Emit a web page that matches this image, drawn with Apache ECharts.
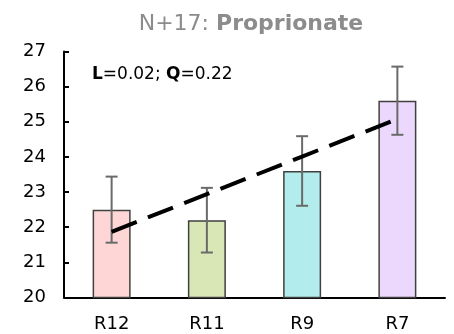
<!DOCTYPE html>
<html>
<head>
<meta charset="utf-8">
<script src="https://cdn.jsdelivr.net/npm/echarts@6/dist/echarts.min.js"></script>
<style>
html,body{margin:0;padding:0;background:#fff;}
#c{width:454px;height:334px;}
</style>
</head>
<body>
<div id="c"></div>
<script>
const categories = ['R12', 'R11', 'R9', 'R7'];
const means = [22.5, 22.2, 23.6, 25.6];
const errors = [0.94, 0.92, 0.99, 0.97];
const trend = [21.87, 22.94, 24.01, 25.08];
const barColors = ['#ffd6d6', '#d9e7b6', '#b3ecec', '#ebd8fc'];
const yTicks = [20, 21, 22, 23, 24, 25, 26, 27];

const FONT = 'DejaVu Sans';
const chart = echarts.init(document.getElementById('c'), null, {renderer: 'canvas'});

const errData = means.map((m, i) => [i, m - errors[i], m + errors[i]]);

chart.setOption({
  animation: false,
  title: [
    {
      text: '{a|N+17: }{b|Proprionate}',
      left: 246,
      textAlign: 'center',
      top: 8,
      textStyle: {
        fontFamily: FONT, fontSize: 22, fontWeight: 'normal', color: '#8c8c8c',
        rich: {
          a: {fontFamily: FONT, fontSize: 22, fontWeight: 'normal', color: '#8c8c8c'},
          b: {fontFamily: FONT, fontSize: 22, fontWeight: 'bold', color: '#8c8c8c'}
        }
      }
    },
    {
      text: '{b|L}{a|=0.02; }{b|Q}{a|=0.22}',
      left: 87,
      top: 61,
      textStyle: {
        fontFamily: FONT, fontSize: 17, fontWeight: 'normal', color: '#000',
        rich: {
          a: {fontFamily: FONT, fontSize: 17, fontWeight: 'normal', color: '#000'},
          b: {fontFamily: FONT, fontSize: 17, fontWeight: 'bold', color: '#000'}
        }
      }
    }
  ],
  grid: {left: 64, right: 9, top: 51.5, bottom: 36.5, containLabel: false},
  xAxis: {
    type: 'category',
    data: categories,
    axisLine: {show: true, lineStyle: {color: '#000', width: 2}},
    axisTick: {show: false},
    axisLabel: {color: '#000', fontFamily: FONT, fontSize: 18, margin: 18},
    splitLine: {show: false}
  },
  yAxis: {
    type: 'value',
    min: yTicks[0],
    max: yTicks[yTicks.length - 1],
    interval: 1,
    axisLine: {show: true, lineStyle: {color: '#000', width: 2}},
    axisTick: {show: true, inside: true, length: 5, lineStyle: {color: '#000', width: 2}},
    axisLabel: {color: '#000', fontFamily: FONT, fontSize: 18, margin: 18},
    splitLine: {show: false}
  },
  series: [
    {
      type: 'bar',
      barWidth: 38,
      data: means.map((v, i) => ({
        value: v,
        itemStyle: {color: barColors[i], borderColor: '#404040', borderWidth: 1.5}
      })),
      z: 2
    },
    {
      type: 'custom',
      data: errData,
      z: 3,
      renderItem: function (params, api) {
        const idx = api.value(0);
        const lo = api.coord([idx, api.value(1)]);
        const hi = api.coord([idx, api.value(2)]);
        const hw = 6;
        const st = {stroke: '#6a6a6a', lineWidth: 2};
        return {
          type: 'group',
          children: [
            {type: 'line', shape: {x1: hi[0], y1: hi[1], x2: lo[0], y2: lo[1]}, style: st},
            {type: 'line', shape: {x1: hi[0] - hw, y1: hi[1], x2: hi[0] + hw, y2: hi[1]}, style: st},
            {type: 'line', shape: {x1: lo[0] - hw, y1: lo[1], x2: lo[0] + hw, y2: lo[1]}, style: st}
          ]
        };
      }
    },
    {
      type: 'line',
      data: trend,
      symbol: 'none',
      z: 4,
      lineStyle: {color: '#000', width: 4, type: [27, 12]}
    }
  ]
});
</script>
</body>
</html>
